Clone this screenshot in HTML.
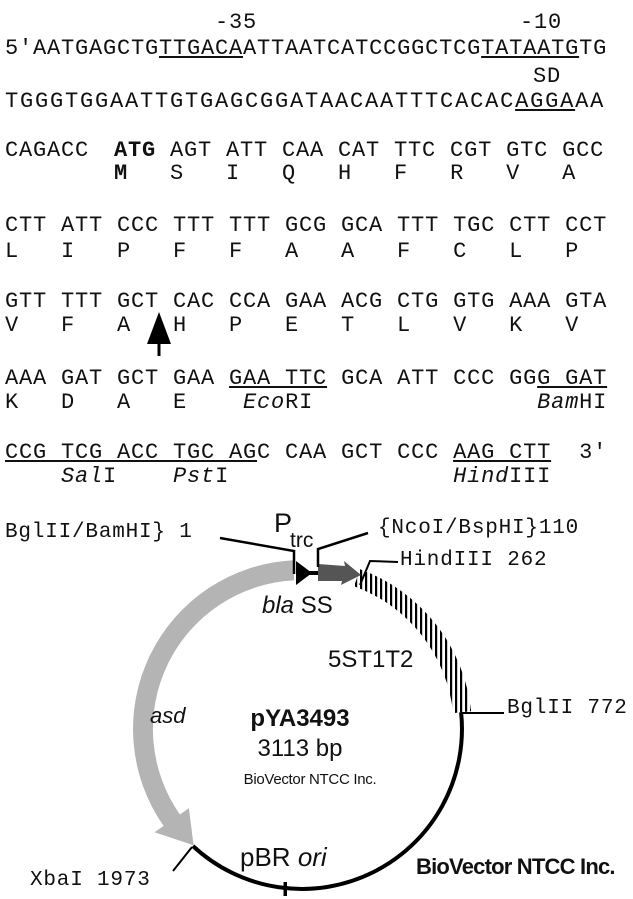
<!DOCTYPE html>
<html><head><meta charset="utf-8"><style>
body{margin:0;width:633px;height:899px;background:#fff;overflow:hidden;position:relative;font-family:"Liberation Mono",monospace;color:#111}
.t{position:absolute;white-space:pre;font-size:22px;letter-spacing:0.8px;line-height:1}
u{text-decoration:underline;text-underline-offset:2px}
i{font-style:italic}
</style></head><body>
<div class="t" style="left:215px;top:12px">-35</div>
<div class="t" style="left:520px;top:12px">-10</div>
<div class="t" style="left:5px;top:38px">5'AATGAGCTG<u>TTGACA</u>ATTAATCATCCGGCTCG<u>TATAATG</u>TG</div>
<div class="t" style="left:533px;top:66px">SD</div>
<div class="t" style="left:5px;top:91px;letter-spacing:1.8px">TGGGTGGAATTGTGAGCGGATAACAATTTCACAC<u>AGGA</u>AA</div>

<div class="t" style="left:5px;top:140px">CAGACC</div>
<div class="t" style="left:114px;top:140px"><b>ATG</b> AGT ATT CAA CAT TTC CGT GTC GCC</div>
<div class="t" style="left:114px;top:163px"><b>M</b>   S   I   Q   H   F   R   V   A</div>

<div class="t" style="left:5px;top:215px">CTT ATT CCC TTT TTT GCG GCA TTT TGC CTT CCT</div>
<div class="t" style="left:5px;top:241px">L   I   P   F   F   A   A   F   C   L   P</div>

<div class="t" style="left:5px;top:291px">GTT TTT GCT CAC CCA GAA ACG CTG GTG AAA GTA</div>
<div class="t" style="left:5px;top:315px">V   F   A   H   P   E   T   L   V   K   V</div>

<div class="t" style="left:5px;top:368px">AAA GAT GCT GAA <u>GAA TTC</u> GCA ATT CCC GG<u>G GAT</u></div>
<div class="t" style="left:5px;top:392px">K   D   A   E    <i>Eco</i>RI                <i>Bam</i>HI</div>

<div class="t" style="left:5px;top:442px"><u>CCG TCG ACC TGC AG</u>C CAA GCT CCC <u>AAG CTT</u>  3'</div>
<div class="t" style="left:5px;top:466px">    <i>Sal</i>I    <i>Pst</i>I                <i>Hind</i>III</div>

<div class="t" style="left:5px;top:522px;font-size:21px">BglII/BamHI} 1</div>
<div class="t" style="left:378px;top:518px;font-size:21px">{NcoI/BspHI}110</div>
<div class="t" style="left:400px;top:550px;font-size:21px">HindIII 262</div>
<div class="t" style="left:507px;top:698px;font-size:21px">BglII 772</div>
<div class="t" style="left:30px;top:870px;font-size:21px">XbaI 1973</div>

<svg width="633" height="899" style="position:absolute;left:0;top:0" xmlns="http://www.w3.org/2000/svg">
<defs><pattern id="h" width="5" height="10" patternUnits="userSpaceOnUse"><rect x="0" y="0" width="2.2" height="10" fill="#000"/></pattern></defs>
<polygon points="159,312 147,344 171,344" fill="#000"/>
<rect x="157.5" y="342" width="3" height="14" fill="#000"/>
<path d="M461.1 712.3 A160 160 0 0 1 192.9 846" fill="none" stroke="#000" stroke-width="4"/>
<rect x="283.5" y="882" width="3.5" height="14" fill="#000"/>
<path d="M293.2 560.2 A169 169 0 0 0 163.6 825.9 L154.5 832.2 L193.6 845.3 L188.9 808.2 L179.9 814.5 A149 149 0 0 1 294.2 580.2 Z" fill="#b4b4b4"/>
<path d="M360.1 569.3 A170 170 0 0 1 471.1 711.2 L453.2 713.1 A152 152 0 0 0 354 586.2 Z" fill="url(#h)"/>
<polygon points="296,561 296,585 312,573" fill="#000"/>
<rect x="300" y="571" width="20" height="4" fill="#000"/>
<path d="M318 564 L345 566 L344 561 L361 575 L341 585 L342 581 L318 581 Z" fill="#555"/>
<polyline points="220,538 294,551 294,574" fill="none" stroke="#000" stroke-width="2.5"/>
<polyline points="368,533 318,549 318,567" fill="none" stroke="#000" stroke-width="2.5"/>
<polyline points="398,562 370,561 360,585" fill="none" stroke="#000" stroke-width="2"/>
<line x1="461" y1="713" x2="504" y2="713" stroke="#000" stroke-width="2"/>
<line x1="173" y1="871" x2="192" y2="847" stroke="#000" stroke-width="2"/>
<g font-family="Liberation Sans, sans-serif" fill="#111">
<text x="274" y="532" font-size="27">P</text>
<text x="290" y="547" font-size="21">trc</text>
<text x="262" y="613" font-size="24"><tspan font-style="italic">bla</tspan> SS</text>
<text x="328" y="667" font-size="24">5ST1T2</text>
<text x="150" y="723" font-size="22" font-style="italic">asd</text>
<text x="300" y="726" font-size="24" font-weight="bold" text-anchor="middle">pYA3493</text>
<text x="300" y="756" font-size="24" text-anchor="middle">3113 bp</text>
<text x="310" y="784" font-size="15" text-anchor="middle" letter-spacing="-0.3">BioVector NTCC Inc.</text>
<text x="240" y="866" font-size="26">pBR <tspan font-style="italic">ori</tspan></text>
<text x="416" y="874" font-size="22" font-weight="bold" letter-spacing="-0.8">BioVector NTCC Inc.</text>
</g>
</svg>
</body></html>
